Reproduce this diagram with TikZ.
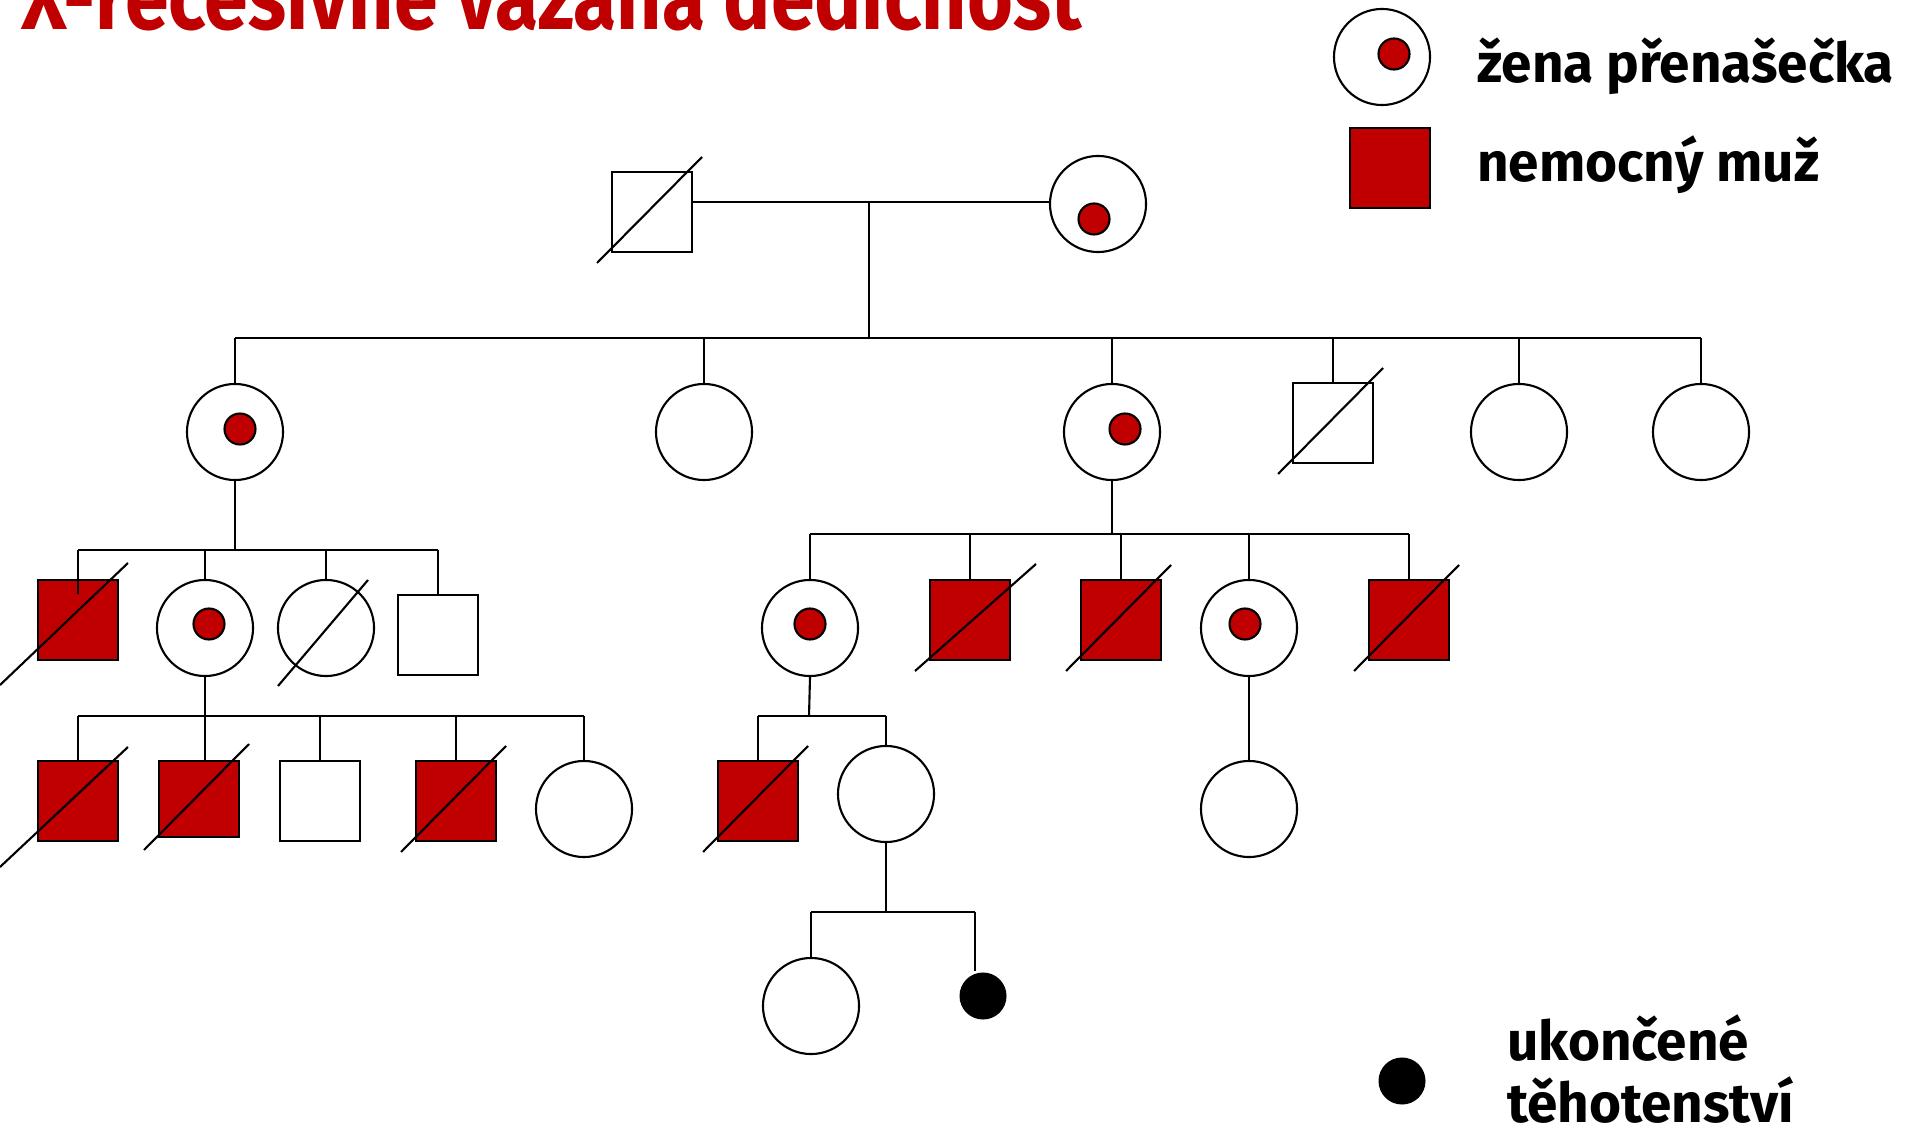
\documentclass[tikz,border=0pt]{standalone}
\usepackage{fontspec}
\setmainfont{Fira Sans}
\usetikzlibrary{calc}
\definecolor{pedred}{RGB}{192,0,0}

\begin{document}
\begin{tikzpicture}[x=0.01cm, y=-0.01cm, line width=0.6pt,
    female/.style={circle, draw, fill=white, minimum size=0.96cm, inner sep=0pt},
    male/.style={rectangle, draw, fill=white, minimum width=0.8cm, minimum height=0.8cm, inner sep=0pt},
    ill/.style={fill=pedred},
    carrier/.style={circle, draw, fill=pedred, minimum size=0.31cm, inner sep=0pt},
    lost/.style={circle, fill=black, minimum size=0.47cm, inner sep=0pt},
    legendtext/.style={anchor=base west, inner sep=0pt, font=\bfseries\fontsize{15.6}{18}\selectfont}]
    \useasboundingbox (0,0) rectangle (1907,1128);
    \clip (0,0) rectangle (1907,1128);

    % Title (top of the letters runs off the page)
    \node[anchor=base west, inner sep=0pt, text=pedred, font=\bfseries\fontsize{20}{24}\selectfont] (title) at (20,30)
        {\scalebox{1.12}[1.3]{X-recesivně vázaná dědičnost}};

    % Generation I
    \node[male] (I1) at (652,212) {};
    \node[female] (I2) at (1098,204) {};
    \node[carrier] (I2c) at ($(I2)+(-4,15)$) {};

    % Generation II
    \node[female] (II1) at (235,432) {};
    \node[carrier] (II1c) at ($(II1)+(5,-3)$) {};
    \node[female] (II2) at (704,432) {};
    \node[female] (II3) at (1112,432) {};
    \node[carrier] (II3c) at ($(II3)+(13,-3)$) {};
    \node[male] (II4) at (1333,423) {};
    \node[female] (II5) at (1519,432) {};
    \node[female] (II6) at (1701,432) {};

    % Generation III
    \node[male, ill] (III1) at (78,620) {};
    \node[female] (III2) at (205,628) {};
    \node[carrier] (III2c) at ($(III2)+(4,-4)$) {};
    \node[female] (III3) at (326,628) {};
    \node[male] (III4) at (438,635) {};
    \node[female] (III5) at (810,628) {};
    \node[carrier] (III5c) at ($(III5)+(0,-4)$) {};
    \node[male, ill] (III6) at (970,620) {};
    \node[male, ill] (III7) at (1121,620) {};
    \node[female] (III8) at (1249,628) {};
    \node[carrier] (III8c) at ($(III8)+(-4,-4)$) {};
    \node[male, ill] (III9) at (1409,620) {};

    % Generation IV
    \node[male, ill] (IV1) at (78,801) {};
    \node[male, ill, minimum height=0.76cm] (IV2) at (199,799) {};
    \node[male] (IV3) at (320,801) {};
    \node[male, ill] (IV4) at (456,801) {};
    \node[female] (IV5) at (584,809) {};
    \node[male, ill] (IV6) at (758,801) {};
    \node[female] (IV7) at (886,794) {};
    \node[female] (IV8) at (1249,809) {};

    % Generation V
    \node[female] (V1) at (811,1006) {};
    \node[lost] (V2) at (983,996) {};

    % Lines of descent
    \coordinate (m1) at (869,202);
    \coordinate (s1) at (869,338);
    \draw (I1.east |- m1) -- (I2.west |- m1);
    \draw (m1) -- (s1);
    \draw (II1.north |- s1) -- (II6.north |- s1);
    \foreach \c in {II1,II2,II3,II4,II5,II6}
        \draw (\c.north |- s1) -- (\c.north);

    \coordinate (s2) at (235,550);
    \draw (II1.south) -- (s2);
    \draw (III1.north |- s2) -- (III4.north |- s2);
    \draw (III1.north |- s2) -- ($(III1.north)+(0,15)$);
    \foreach \c in {III2,III3,III4}
        \draw (\c.north |- s2) -- (\c.north);

    \coordinate (s3) at (1112,534);
    \draw (II3.south) -- (s3);
    \draw (III5.north |- s3) -- (III9.north |- s3);
    \foreach \c in {III5,III6,III7,III8,III9}
        \draw (\c.north |- s3) -- (\c.north);

    \coordinate (s4) at (205,716);
    \draw (III2.south) -- (III2.south |- IV2.north);
    \draw (IV1.north |- s4) -- (IV5.north |- s4);
    \foreach \c in {IV1,IV3,IV4,IV5}
        \draw (\c.north |- s4) -- (\c.north);

    \coordinate (s5) at (809,716);
    \draw (III5.south) -- (s5);
    \draw (IV6.north |- s5) -- (IV7.north |- s5);
    \foreach \c in {IV6,IV7}
        \draw (\c.north |- s5) -- (\c.north);

    \draw (III8.south) -- (IV8.north);

    \coordinate (s6) at (886,912);
    \coordinate (V2top) at ($(V2.north)+(-8,0)$);
    \draw (IV7.south) -- (s6);
    \draw (V1.north |- s6) -- (V2top |- s6);
    \draw (V1.north |- s6) -- (V1.north);
    \draw (V2top |- s6) -- (V2top);

    % Deceased: slash through the symbol
    \foreach \n in {I1,II4,III7,III9,IV2,IV4,IV6}
        \draw ($(\n)+(-55,51)$) -- ($(\n)+(50,-55)$);
    \draw ($(III1)+(-78,65)$) -- ($(III1)+(50,-57)$);
    \draw ($(IV1)+(-78,66)$) -- ($(IV1)+(50,-54)$);
    \draw ($(III6)+(-55,51)$) -- ($(III6)+(66,-56)$);
    \draw ($(III3)+(-48,58)$) -- ($(III3)+(42,-48)$);

    % Key
    \node[female] (kC) at (1382,57) {};
    \node[carrier] (kCc) at ($(kC)+(12,-3)$) {};
    \node[male, ill] (kM) at (1390,168) {};
    \node[lost] (kL) at (1402,1081) {};
    \node[legendtext] (kCt) at (1476,83) {žena přenašečka};
    \node[legendtext] (kMt) at (1476,182) {nemocný muž};
    \node[legendtext] (kLt1) at (1506,1060) {ukončené};
    \node[legendtext] (kLt2) at (1506,1122) {těhotenství};
\end{tikzpicture}
\end{document}
